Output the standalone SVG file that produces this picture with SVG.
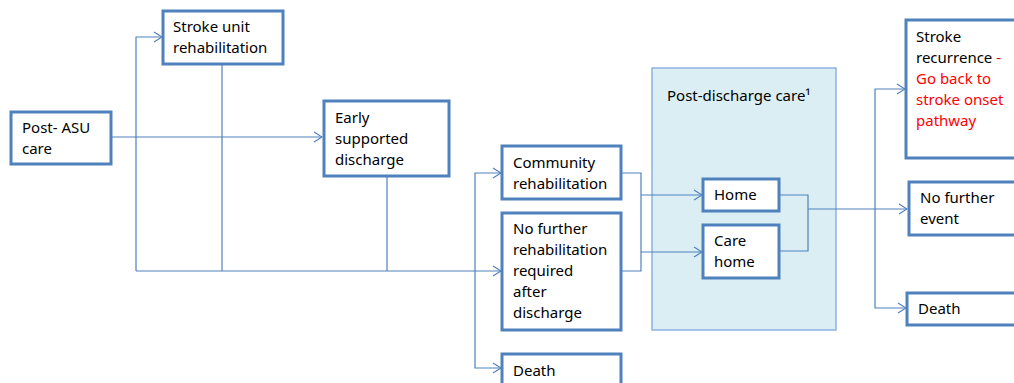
<svg xmlns="http://www.w3.org/2000/svg" width="1014" height="383" viewBox="0 0 1014 383">
<style>
.box{fill:#fff;stroke:#4F81BD;stroke-width:3}
.t{font-family:"Noto Sans","Open Sans",sans-serif;font-size:15px;fill:#000}
.red{fill:#FF0000}
.c{fill:none;stroke:#4F81BD;stroke-width:1.2}
.a{marker-end:url(#arr)}
</style>
<defs>
<marker id="arr" markerWidth="10" markerHeight="12" refX="9" refY="6" orient="auto" markerUnits="userSpaceOnUse">
<path d="M1,1 L9,6 L1,11" fill="none" stroke="#4F81BD" stroke-width="1.2"/>
</marker>
</defs>
<rect x="0" y="0" width="1014" height="383" fill="#fff"/>
<g id="post-discharge-care">
<rect x="652" y="68" width="184" height="262" fill="#DBEEF3" stroke="#8DB3E2" stroke-width="1.5"/>
<text class="t" x="667" y="101">Post-discharge care¹</text>
</g>
<g id="connectors">
<path class="c a" d="M111,137 H322"/>
<path class="c a" d="M136,271 V37 H162"/>
<path class="c a" d="M136,271 H501"/>
<path class="c" d="M222,64 V271"/>
<path class="c" d="M387,176 V271"/>
<path class="c a" d="M475,271 V173 H501"/>
<path class="c a" d="M475,271 V368 H501"/>
<path class="c" d="M621,173 H641 V271 H621"/>
<path class="c a" d="M641,195 H702"/>
<path class="c a" d="M641,252 H702"/>
<path class="c" d="M779,195 H808 V251 H779"/>
<path class="c a" d="M808,209 H907"/>
<path class="c a" d="M875,209 V89 H905"/>
<path class="c a" d="M875,209 V308 H906"/>
</g>
<g id="post-asu">
<rect class="box" x="11" y="112" width="100" height="52"/>
<text class="t" x="22" y="133">Post- ASU</text>
<text class="t" x="22" y="154">care</text>
</g>
<g id="stroke-unit">
<rect class="box" x="163" y="11" width="120" height="53"/>
<text class="t" x="173" y="32">Stroke unit</text>
<text class="t" x="173" y="53">rehabilitation</text>
</g>
<g id="esd">
<rect class="box" x="324" y="101" width="125" height="75"/>
<text class="t" x="335" y="123">Early</text>
<text class="t" x="335" y="144">supported</text>
<text class="t" x="335" y="165">discharge</text>
</g>
<g id="community">
<rect class="box" x="502" y="146" width="119" height="53"/>
<text class="t" x="513" y="168">Community</text>
<text class="t" x="513" y="189">rehabilitation</text>
</g>
<g id="no-further-rehab">
<rect class="box" x="502" y="213" width="119" height="117"/>
<text class="t" x="513" y="234">No further</text>
<text class="t" x="513" y="255">rehabilitation</text>
<text class="t" x="513" y="276">required</text>
<text class="t" x="513" y="297">after</text>
<text class="t" x="513" y="318">discharge</text>
</g>
<g id="death-1">
<rect class="box" x="502" y="354" width="119" height="40"/>
<text class="t" x="513" y="376">Death</text>
</g>
<g id="home">
<rect class="box" x="703" y="179" width="76" height="32"/>
<text class="t" x="714" y="200">Home</text>
</g>
<g id="care-home">
<rect class="box" x="703" y="225" width="76" height="53"/>
<text class="t" x="714" y="246">Care</text>
<text class="t" x="714" y="267">home</text>
</g>
<g id="stroke-recurrence">
<rect class="box" x="906" y="20" width="120" height="138"/>
<text class="t" x="916" y="42">Stroke</text>
<text class="t" x="916" y="63">recurrence <tspan class="red">-</tspan></text>
<text class="t red" x="916" y="84">Go back to</text>
<text class="t red" x="916" y="105">stroke onset</text>
<text class="t red" x="916" y="126">pathway</text>
</g>
<g id="no-further-event">
<rect class="box" x="909" y="182" width="120" height="53"/>
<text class="t" x="920" y="203">No further</text>
<text class="t" x="920" y="224">event</text>
</g>
<g id="death-2">
<rect class="box" x="907" y="293" width="120" height="32"/>
<text class="t" x="918" y="314">Death</text>
</g>
</svg>
